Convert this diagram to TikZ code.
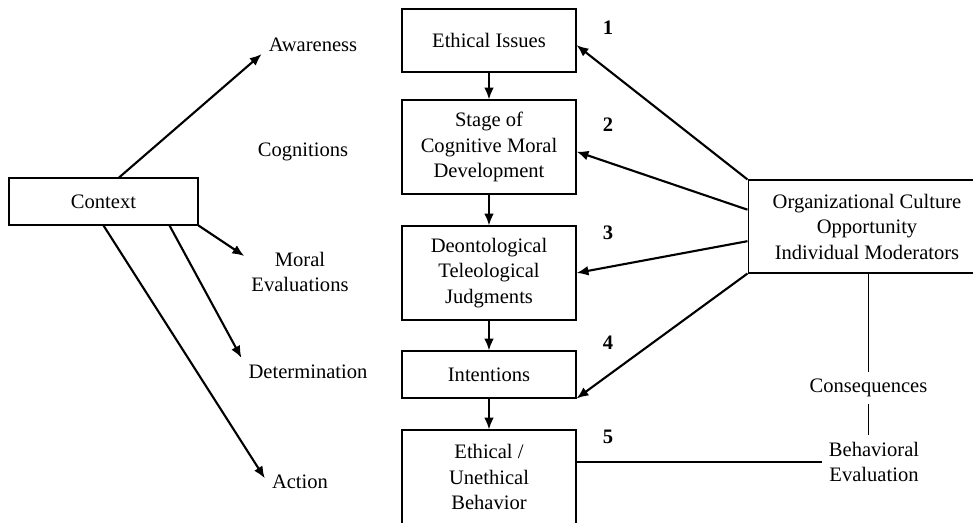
\documentclass[tikz,border=0pt]{standalone}
\usepackage{fontspec}
\setmainfont{Liberation Serif}
\usetikzlibrary{arrows.meta}

\begin{document}
\begin{tikzpicture}[
      x=0.02cm, y=-0.02cm,
      pfeil/.style={line width=1.2pt, -{Latex[length=6.8pt,width=5.6pt]}},
      strich/.style={line width=0.6pt},
      kasten/.style={rectangle, draw, line width=0.6pt,
        minimum width=3.48cm, align=center, inner sep=2pt},
      etikett/.style={align=center},
      nummer/.style={font=\bfseries}
    ]
    \fontsize{11.7}{14.5}\selectfont
    \useasboundingbox (0,0) rectangle (973,523);
    \clip (0,0) rectangle (973,523);
    % boxes
    \path (103.5,201.5) node(ctx) [kasten, minimum width=3.78cm, minimum height=0.94cm] {Context}
    (489,40.5) node(issues) [kasten, minimum height=1.26cm] {Ethical Issues}
    (489,147) node(stage) [kasten, minimum height=1.88cm] {Stage of\\Cognitive Moral\\Development}
    (489,273) node(deont) [kasten, minimum height=1.88cm] {Deontological\\Teleological\\Judgments}
    (489,374.5) node(intent) [kasten, minimum height=0.94cm] {Intentions}
    (489,477) node(behav) [kasten, minimum height=1.88cm] {Ethical /\\Unethical\\Behavior}
    (867,226.5) node(org) [kasten, minimum width=4.76cm, minimum height=1.86cm]
      {Organizational Culture\\Opportunity\\Individual Moderators};
    % labels
    \path (313,45) node(aware) [etikett] {Awareness}
    (303,152) node(cogn) [etikett] {Cognitions}
    (300,272) node(moral) [etikett] {Moral\\Evaluations}
    (308,372) node(determ) [etikett] {Determination}
    (300,482) node(action) [etikett] {Action}
    (868.5,388) node(cons) [etikett] {Consequences}
    (874,462) node(beval) [etikett] {Behavioral\\Evaluation};
    \path (608,28) node(n1) [nummer] {1}
    (608,125) node(n2) [nummer] {2}
    (608,233) node(n3) [nummer] {3}
    (608,343) node(n4) [nummer] {4}
    (608,437) node(n5) [nummer] {5};
    % context arrows
    \draw[pfeil] (ctx.57) -- (aware.190);
    \draw[pfeil] (ctx.south east) -- (moral.164);
    \draw[pfeil] (ctx.-20) -- (determ.north west);
    \draw[pfeil] (ctx.south) -- (action.174);
    % chain
    \draw[pfeil] (issues) -- (stage);
    \draw[pfeil] (stage) -- (deont);
    \draw[pfeil] (deont) -- (intent);
    \draw[pfeil] (intent) -- (behav);
    % moderators
    \draw[pfeil] (org.north west) -- (issues.-3);
    \draw[pfeil] (org.172) -- (stage.-3);
    \draw[pfeil] (org.187) -- (deont.east);
    \draw[pfeil] (org.south west) -- (intent.south east);
    % feedback
    \draw[strich] (cons.north |- org.south) -- (cons.north);
    \draw[strich] (cons.south) -- (cons.south |- beval.north);
    \draw[strich] (behav.east |- beval.west) -- (beval.west);
  \end{tikzpicture}
\end{document}
